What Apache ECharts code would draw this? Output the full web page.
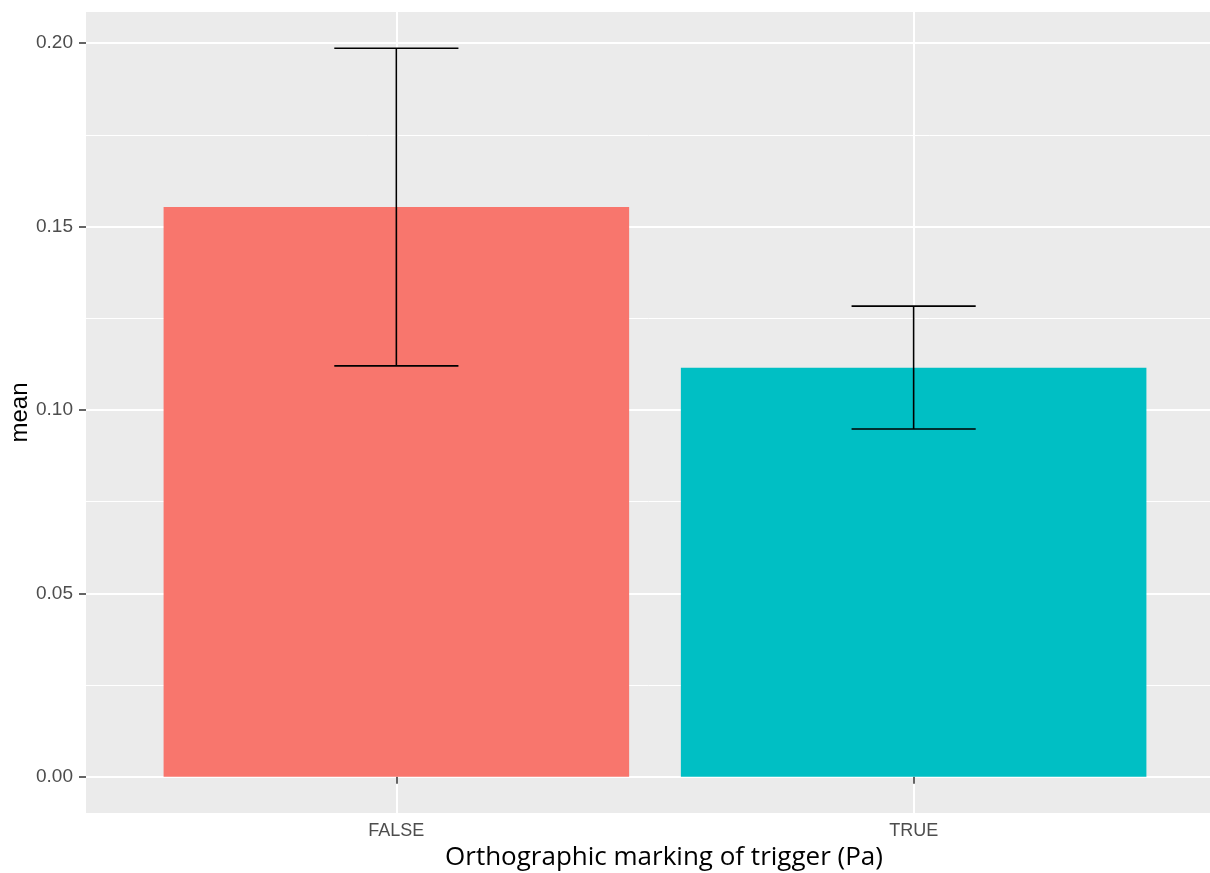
<!DOCTYPE html>
<html>
<head>
<meta charset="utf-8">
<script src="https://cdn.jsdelivr.net/npm/echarts@6/dist/echarts.min.js"></script>
<style>
html,body{margin:0;padding:0;background:#fff;}
#chart{width:1210px;height:873px;}
</style>
</head>
<body>
<div id="chart"></div>
<script>
const categories = ['FALSE', 'TRUE'];
const means = [0.1553, 0.1115];
const lower = [0.1120, 0.0948];
const upper = [0.1986, 0.1283];
const barColors = ['#F8766D', '#00BFC4'];
const yTicks = [0, 0.05, 0.10, 0.15, 0.20];
const yMinor = [0.025, 0.075, 0.125, 0.175];
const xTitle = 'Orthographic marking of trigger (Pa)';
const yTitle = 'mean';

const xPos = categories.map((c, i) => i + 1);
const FONT = "'Liberation Sans', Arial, sans-serif";
const TITLE_FONT = "'Open Sans', 'Liberation Sans', sans-serif";

const chart = echarts.init(document.getElementById('chart'), null, {renderer: 'canvas'});
chart.setOption({
  animation: false,
  backgroundColor: '#ffffff',
  grid: {
    left: 86, top: 12, width: 1138, bottom: 60,
    show: true, backgroundColor: '#EBEBEB', borderWidth: 0,
    containLabel: false, outerBoundsMode: 'none'
  },
  xAxis: {
    type: 'value', min: 0.4, max: 2.6,
    name: xTitle, nameLocation: 'middle', nameGap: 31,
    nameTextStyle: {fontFamily: TITLE_FONT, fontSize: 26, color: '#000', padding: [0, 0, 0, 18]},
    axisLine: {show: false},
    axisTick: {show: true, length: 7, customValues: xPos, lineStyle: {color: '#333333', width: 1.5}},
    axisLabel: {
      show: true, customValues: xPos, margin: 9,
      fontFamily: FONT, fontSize: 18, color: '#4D4D4D',
      formatter: v => categories[Math.round(v) - 1] || ''
    },
    splitLine: {show: true, lineStyle: {color: '#FFFFFF', width: 2}}
  },
  yAxis: [{
    type: 'value', min: -0.0099, max: 0.2085,
    name: yTitle, nameLocation: 'middle', nameGap: 54, nameRotate: 90, nameMoveOverlap: false,
    nameTextStyle: {fontFamily: FONT, fontSize: 24, color: '#000'},
    axisLine: {show: false},
    axisTick: {show: true, length: 7, customValues: yTicks, lineStyle: {color: '#333333', width: 1.5}},
    axisLabel: {
      show: true, customValues: yTicks, margin: 13,
      fontFamily: FONT, fontSize: 19, color: '#4D4D4D',
      formatter: v => v.toFixed(2)
    },
    splitLine: {show: true, lineStyle: {color: '#FFFFFF', width: 2}}
  }, {
    type: 'value', min: -0.0099, max: 0.2085, position: 'left',
    axisLine: {show: false},
    axisTick: {show: false, customValues: yMinor},
    axisLabel: {show: false, customValues: yMinor},
    splitLine: {show: true, lineStyle: {color: '#FFFFFF', width: 1}}
  }],
  series: [{
    type: 'custom',
    z: 3,
    data: xPos.map((x, i) => [x, means[i]]),
    renderItem: function (params, api) {
      const x = api.value(0), y = api.value(1);
      const p0 = api.coord([x - 0.45, 0]);
      const p1 = api.coord([x + 0.45, y]);
      return {
        type: 'rect',
        shape: {x: p0[0], y: p1[1], width: p1[0] - p0[0], height: p0[1] - p1[1]},
        style: {fill: barColors[params.dataIndex]}
      };
    }
  }, {
    type: 'custom',
    z: 4,
    data: xPos.map((x, i) => [x, lower[i], upper[i]]),
    renderItem: function (params, api) {
      const x = api.value(0), lo = api.value(1), hi = api.value(2);
      const pl = api.coord([x, lo]), ph = api.coord([x, hi]);
      const cl0 = api.coord([x - 0.12, lo]), cl1 = api.coord([x + 0.12, lo]);
      const ch0 = api.coord([x - 0.12, hi]), ch1 = api.coord([x + 0.12, hi]);
      const st = {stroke: '#000000', lineWidth: 1.6};
      return {
        type: 'group',
        children: [
          {type: 'line', shape: {x1: pl[0], y1: pl[1], x2: ph[0], y2: ph[1]}, style: st},
          {type: 'line', shape: {x1: cl0[0], y1: cl0[1], x2: cl1[0], y2: cl1[1]}, style: st},
          {type: 'line', shape: {x1: ch0[0], y1: ch0[1], x2: ch1[0], y2: ch1[1]}, style: st}
        ]
      };
    }
  }]
});
</script>
</body>
</html>
